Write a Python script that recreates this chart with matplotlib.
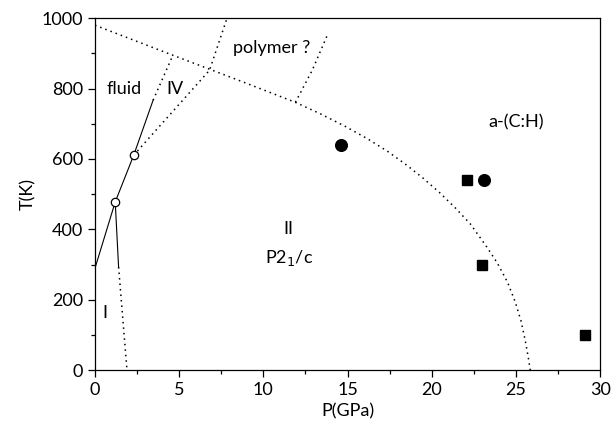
import matplotlib
matplotlib.use('Agg')
import matplotlib.pyplot as plt
from matplotlib.ticker import MultipleLocator

plt.rcParams['font.family'] = ['Lato', 'DejaVu Sans']

# phase boundary between II and the high-T phases (P in GPa, T in K)
boundary_p = [0, 4.5, 6.7, 9, 11.9, 13.4, 14.85, 16.2, 17.4, 18.5, 19.5, 20.5,
              21.4, 22.3, 23.27, 23.9, 24.5, 24.95, 25.3, 25.55, 25.72, 25.85]
boundary_t = [980, 897, 857, 815, 761, 728, 693, 657, 621, 583, 545, 503,
              461, 415, 350, 304, 250, 195, 140, 85, 40, 0]

# melting line (solid part) through the two triple points
melt_p = [0, 1.2, 2.3, 3.45]
melt_t = [290, 478, 611, 767]
melt_ext_p = [3.45, 4.6]
melt_ext_t = [767, 892]

# I / II boundary
i_ii_p = [1.2, 1.4]
i_ii_t = [478, 293]
i_ii_ext_p = [1.4, 1.9]
i_ii_ext_t = [293, 0]

# IV / II boundary
iv_p = [2.3, 6.8, 7.84]
iv_t = [611, 852, 1000]

# polymer boundary
poly_p = [11.9, 12.9, 13.8]
poly_t = [761, 852, 952]

# triple points
triple_p = [1.2, 2.3]
triple_t = [478, 611]

# experimental points
circ_p = [14.6, 23.1]
circ_t = [640, 540]
sq_p = [22.1, 23.0, 29.1]
sq_t = [540, 298, 99]

fig = plt.figure(figsize=(6.13, 4.33), dpi=100)
ax = fig.add_axes([0.155, 0.145, 0.824, 0.813])

dot = (0, (1, 2.6))
ax.plot(boundary_p, boundary_t, color='black', lw=1.1, linestyle=dot)
ax.plot(melt_p, melt_t, color='black', lw=0.8)
ax.plot(melt_ext_p, melt_ext_t, color='black', lw=1.1, linestyle=dot)
ax.plot(i_ii_p, i_ii_t, color='black', lw=0.8)
ax.plot(i_ii_ext_p, i_ii_ext_t, color='black', lw=1.1, linestyle=dot)
ax.plot(iv_p, iv_t, color='black', lw=1.1, linestyle=dot)
ax.plot(poly_p, poly_t, color='black', lw=1.1, linestyle=dot)

ax.plot(triple_p, triple_t, 'o', ms=6, mfc='white', mec='black', mew=0.9, zorder=3)
ax.plot(circ_p, circ_t, 'o', ms=8.4, color='black', zorder=3)
ax.plot(sq_p, sq_t, 's', ms=6.5, color='black', zorder=3)

fs = 13
ax.text(1.7, 800, 'fluid', fontsize=fs, ha='center', va='center')
ax.text(4.75, 800, 'IV', fontsize=fs, ha='center', va='center')
ax.text(10.5, 915, 'polymer ?', fontsize=fs, ha='center', va='center')
ax.text(25.0, 705, 'a-(C:H)', fontsize=fs, ha='center', va='center')
ax.text(11.5, 400, 'II', fontsize=fs, ha='center', va='center')
ax.text(11.5, 318, r'P2$_1$/c', fontsize=fs, ha='center', va='center')
ax.text(0.6, 162, 'I', fontsize=fs, ha='center', va='center')

ax.set_xlim(0, 30)
ax.set_ylim(0, 1000)
ax.xaxis.set_major_locator(MultipleLocator(5))
ax.xaxis.set_minor_locator(MultipleLocator(2.5))
ax.yaxis.set_major_locator(MultipleLocator(200))
ax.yaxis.set_minor_locator(MultipleLocator(100))
ax.tick_params(which='both', direction='out', top=False, right=False, labelsize=fs, width=0.9)
ax.tick_params(which='major', length=5)
ax.tick_params(which='minor', length=3)
for s in ax.spines.values():
    s.set_linewidth(0.9)

ax.set_xlabel('P(GPa)', fontsize=fs)
ax.set_ylabel('T(K)', fontsize=fs)

fig.savefig('out.png', dpi=100)
